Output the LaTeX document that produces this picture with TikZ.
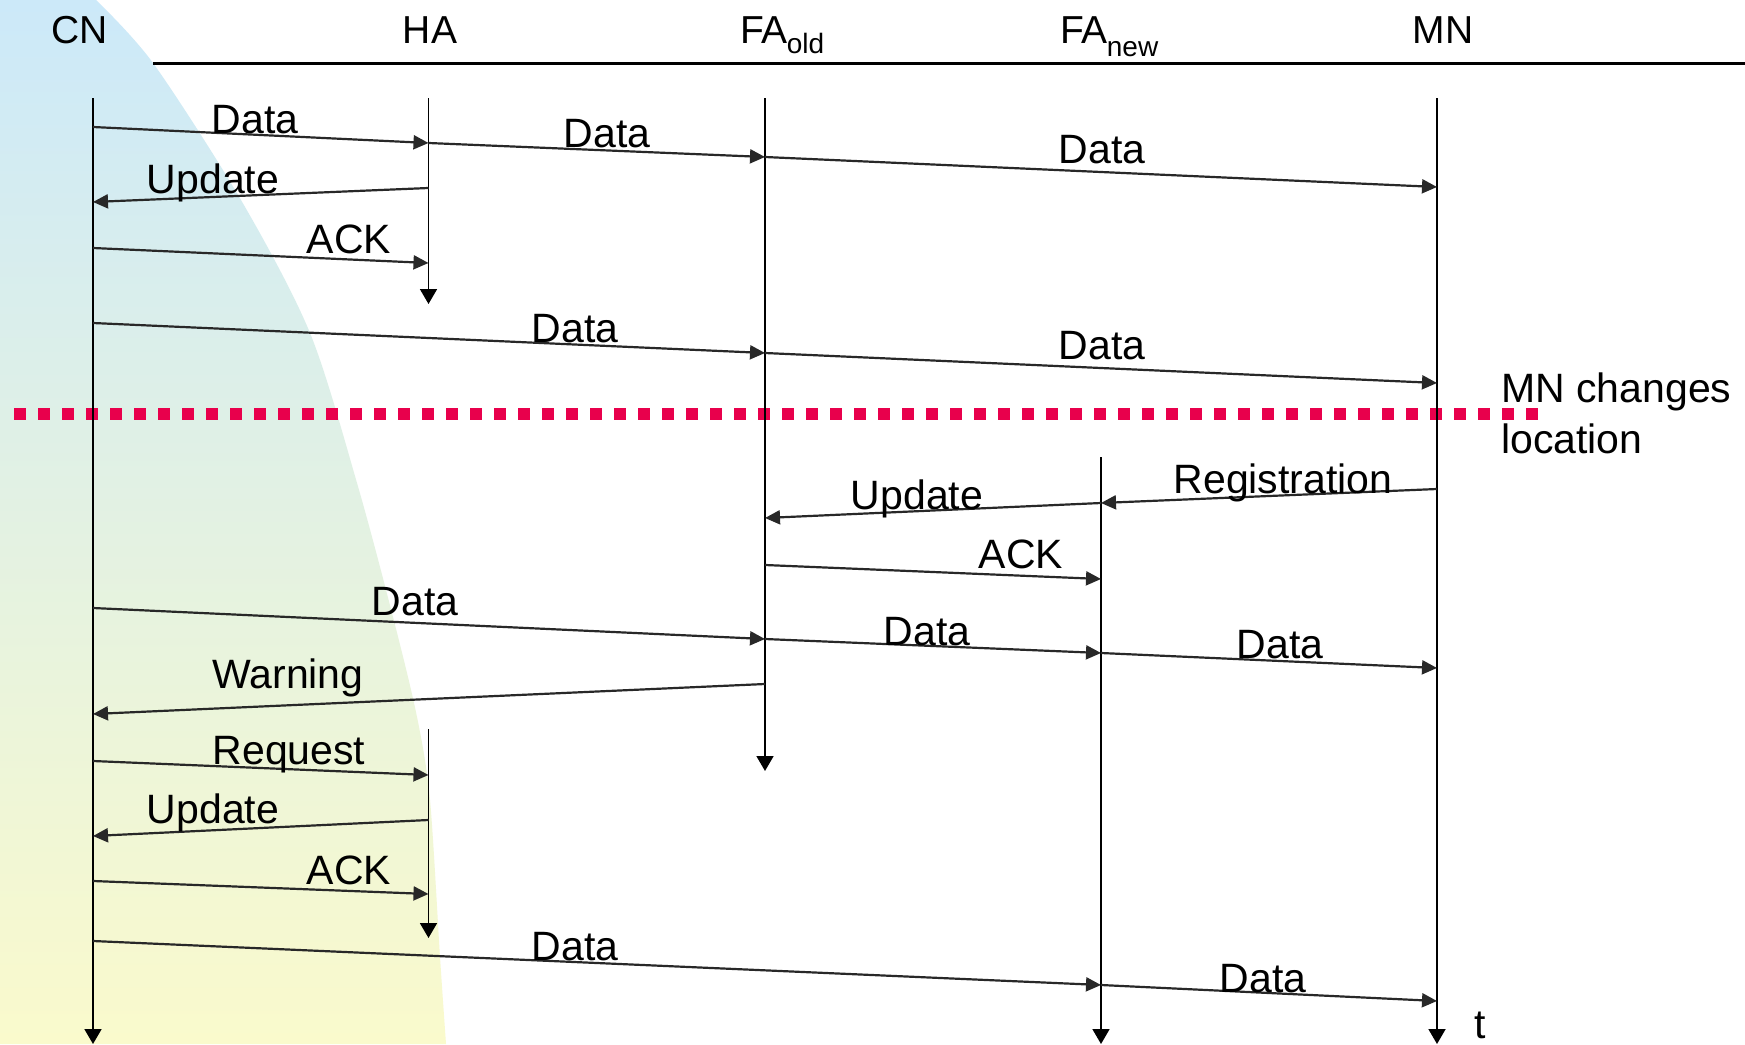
\documentclass[tikz,border=0pt]{standalone}
\usepackage{fontspec}
\setmainfont{Liberation Sans}
\usetikzlibrary{arrows.meta}
\definecolor{bgblue}{RGB}{204,233,249}
\definecolor{bgyellow}{RGB}{250,250,204}
\definecolor{markred}{RGB}{232,0,76}
\definecolor{wire}{RGB}{40,40,40}
\begin{document}
\begin{tikzpicture}[x=1pt,y=-1pt,
  lifeline/.style={line width=1.8pt, black, -{Triangle[length=15pt,width=17pt]}},
  msg/.style={line width=2.2pt, wire, -{Triangle[length=15pt,width=14pt]}},
  lbl/.style={font=\fontsize{41}{48}\selectfont, anchor=base, inner sep=0pt},
  head/.style={font=\fontsize{39}{46}\selectfont, anchor=base, inner sep=0pt},
  headw/.style={font=\fontsize{39}{46}\selectfont, anchor=base west, inner sep=0pt},
  note/.style={font=\fontsize{41}{48}\selectfont, anchor=base west, inner sep=0pt}]
\useasboundingbox (0,0) rectangle (1745,1044);
\fill[white] (0,0) rectangle (1745,1044);

% background wedge on the left
\shade[top color=bgblue, bottom color=bgyellow]
  (0,0) -- plot[smooth] coordinates {(96,0) (153,63) (241,200) (310,333) (357,483)
    (393,617) (417,717) (430,800) (440,957) (446,1044)} -- (0,1044) -- cycle;

% header
\node[head] (hCN) at (80,43) {CN};
\node[head] (hHA) at (430,43) {HA};
\node[headw] (hFAo) at (740,43) {FA\kern-1pt\raisebox{-10pt}{\fontsize{28}{32}\selectfont old}};
\node[headw] (hFAn) at (1060,43) {FA\kern-1pt\raisebox{-13pt}{\fontsize{28}{32}\selectfont new}};
\node[head] (hMN) at (1443,43) {MN};
\coordinate (ruleL) at (153,63);
\coordinate (ruleR) at (1745,63);
\draw[line width=3pt] (ruleL) -- (ruleR);

% handover marker
\coordinate (hoL) at (14,414);
\coordinate (hoR) at (1538,414);
\draw[markred, line width=12pt, dash pattern=on 12pt off 12pt] (hoL) -- (hoR);
\node[note] (chg1) at (1501,402) {MN changes};
\node[note] (chg2) at (1501,453) {location};

% lifelines
\coordinate (CNa) at (93,98);    \coordinate (CNb) at (93,1044);
\coordinate (HAa) at (428.5,98); \coordinate (HAb) at (428.5,304);
\coordinate (HAc) at (428.5,729);\coordinate (HAd) at (428.5,938);
\coordinate (FOa) at (765,98);   \coordinate (FOb) at (765,771);
\coordinate (FNa) at (1101,457); \coordinate (FNb) at (1101,1044);
\coordinate (MNa) at (1437,98);  \coordinate (MNb) at (1437,1044);
\draw[lifeline] (CNa) -- (CNb);
\draw[lifeline] (HAa) -- (HAb);
\draw[lifeline] (HAc) -- (HAd);
\draw[lifeline] (FOa) -- (FOb);
\draw[lifeline] (FNa) -- (FNb);
\draw[lifeline] (MNa) -- (MNb);
\node[lbl] (tlab) at (1480,1038) {t};

% messages before the move
\coordinate (m1a) at (93,127);    \coordinate (m1b) at (428.5,143);
\coordinate (m2a) at (428.5,143); \coordinate (m2b) at (765,157);
\coordinate (m3a) at (765,157);   \coordinate (m3b) at (1437,187);
\coordinate (m4a) at (428.5,188); \coordinate (m4b) at (93,202);
\coordinate (m5a) at (93,248);    \coordinate (m5b) at (428.5,263);
\coordinate (m6a) at (93,323);    \coordinate (m6b) at (765,353);
\coordinate (m7a) at (765,353);   \coordinate (m7b) at (1437,383);
% messages after the move
\coordinate (m8a) at (1437,489);  \coordinate (m8b) at (1101,503);
\coordinate (m9a) at (1101,503);  \coordinate (m9b) at (765,518);
\coordinate (m10a) at (765,565);  \coordinate (m10b) at (1101,579);
\coordinate (m11a) at (93,608);   \coordinate (m11b) at (765,639);
\coordinate (m12a) at (765,639);  \coordinate (m12b) at (1101,653);
\coordinate (m13a) at (1101,653); \coordinate (m13b) at (1437,668);
\coordinate (m14a) at (765,684);  \coordinate (m14b) at (93,714);
\coordinate (m15a) at (93,761);   \coordinate (m15b) at (428.5,775);
\coordinate (m16a) at (428.5,820);\coordinate (m16b) at (93,836);
\coordinate (m17a) at (93,881);   \coordinate (m17b) at (428.5,894);
\coordinate (m18a) at (93,941);   \coordinate (m18b) at (1101,985);
\coordinate (m19a) at (1101,985); \coordinate (m19b) at (1437,1001);

\foreach \i in {1,...,19} \draw[msg] (m\i a) -- (m\i b);

\node[lbl] (t1)  at (255,133)  {Data};
\node[lbl] (t2)  at (607,147)  {Data};
\node[lbl] (t3)  at (1102,163) {Data};
\node[lbl] (t4)  at (213,193)  {Update};
\node[lbl] (t5)  at (349,253)  {ACK};
\node[lbl] (t6)  at (575,342)  {Data};
\node[lbl] (t7)  at (1102,359) {Data};
\node[lbl] (t8)  at (1283,493) {Registration};
\node[lbl] (t9)  at (917,509)  {Update};
\node[lbl] (t10) at (1021,568) {ACK};
\node[lbl] (t11) at (415,615)  {Data};
\node[lbl] (t12) at (927,645)  {Data};
\node[lbl] (t13) at (1280,658) {Data};
\node[lbl] (t14) at (288,688)  {Warning};
\node[lbl] (t15) at (289,764)  {Request};
\node[lbl] (t16) at (213,823)  {Update};
\node[lbl] (t17) at (349,884)  {ACK};
\node[lbl] (t18) at (575,960)  {Data};
\node[lbl] (t19) at (1263,992) {Data};
\end{tikzpicture}
\end{document}
